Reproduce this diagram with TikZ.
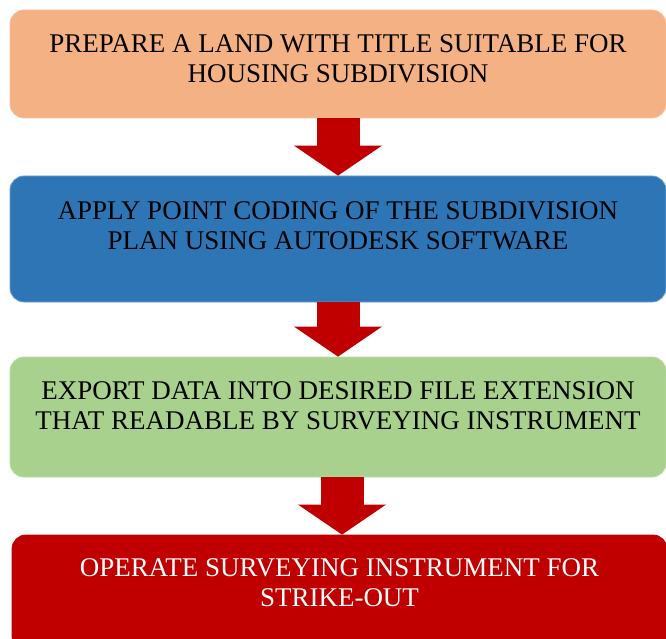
\documentclass[tikz,border=0pt]{standalone}
\usepackage{fontspec}
\setmainfont{Liberation Serif}
\usepackage{tikz}
\usetikzlibrary{positioning,arrows.meta}

\definecolor{landorange}{HTML}{F4B183}
\definecolor{codeblue}{HTML}{2E75B6}
\definecolor{exportgreen}{HTML}{A9D18E}
\definecolor{stakered}{HTML}{C00000}

\tikzset{
  stepbox/.style = {shape = rectangle, rounded corners = 14pt, minimum width = 656pt, line width = 0.8pt},
  steptext/.style = {anchor = north, inner sep = 0pt, align = center, font = \fontsize{27}{30}\selectfont},
  flowarrow/.style = {draw = stakered, line width = 43pt, -{Triangle[width = 88pt, length = 30pt, line width = 0pt]}}
}

\begin{document}
\begin{tikzpicture}[x = 1pt, y = -1pt]
\useasboundingbox (0,0) rectangle (666,639);
\node[stepbox, fill = landorange, draw = landorange!80!white, minimum height = 108pt] (land) at (338,64) {};
\node[stepbox, fill = codeblue, draw = codeblue!70!white, minimum height = 126pt] (coding) at (338,239) {};
\node[stepbox, fill = exportgreen, draw = exportgreen!80!white, minimum height = 120pt] (export) at (338,417) {};
\node[stepbox, fill = stakered, draw = stakered, minimum height = 115pt, minimum width = 655pt] (operate) at (339.5,592.5) {};
\node[steptext] (landtext) at ([yshift = -25pt]land.north) {PREPARE A LAND WITH TITLE SUITABLE FOR\\HOUSING SUBDIVISION};
\node[steptext] (codingtext) at ([yshift = -26pt]coding.north) {APPLY POINT CODING OF THE SUBDIVISION\\PLAN USING AUTODESK SOFTWARE};
\node[steptext] (exporttext) at ([yshift = -25pt]export.north) {EXPORT DATA INTO DESIRED FILE EXTENSION\\THAT READABLE BY SURVEYING INSTRUMENT};
\node[steptext, text = white] (operatetext) at ([yshift = -24pt]operate.north) {OPERATE SURVEYING INSTRUMENT FOR\\STRIKE-OUT};
\draw[flowarrow] (land.south) -- (coding.north);
\draw[flowarrow] (coding.south) -- (export.north);
\draw[flowarrow] ([xshift = 4pt]export.south) -- ([xshift = 2.5pt]operate.north);
\end{tikzpicture}
\end{document}
